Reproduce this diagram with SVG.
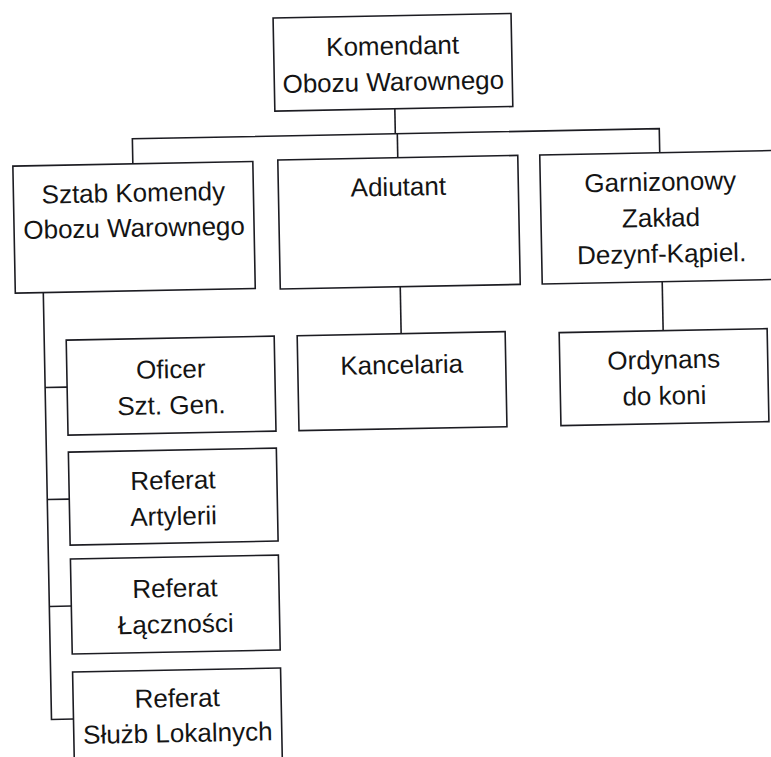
<svg xmlns="http://www.w3.org/2000/svg" width="771" height="757" viewBox="0 0 771 757">
  <style>
    .box { fill: #ffffff; stroke: #1c1c22; stroke-width: 1.6; }
    .link { fill: none; stroke: #1c1c22; stroke-width: 1.6; }
    text { font-family: "Liberation Sans", Arial, sans-serif; font-size: 26px; fill: #141414; text-anchor: middle; }
  </style>
  <rect width="771" height="757" fill="#ffffff"/>
  <g transform="rotate(-1.1 385 378)">
    <g id="connectors">
      <!-- commander down to the distribution bus -->
      <path class="link" d="M400 109 V134"/>
      <path class="link" d="M137 159 V134 H664 V158"/>
      <path class="link" d="M402 134 V158"/>
      <!-- second level to third level -->
      <path class="link" d="M402 287 V334"/>
      <path class="link" d="M664 287 V336"/>
      <!-- staff section spine with branches -->
      <path class="link" d="M45 286 V713 H67"/>
      <path class="link" d="M45 381 H67"/>
      <path class="link" d="M45 493 H67"/>
      <path class="link" d="M45 600 H67"/>
    </g>

    <g id="komendant">
      <rect class="box" x="280" y="16" width="238" height="93"/>
      <text x="399" y="55">Komendant</text>
      <text x="399" y="91">Obozu Warownego</text>
    </g>

    <g id="sztab">
      <rect class="box" x="17" y="159" width="240" height="127"/>
      <text x="137" y="197">Sztab Komendy</text>
      <text x="137" y="232">Obozu Warownego</text>
    </g>

    <g id="adiutant">
      <rect class="box" x="282" y="158" width="240" height="129"/>
      <text x="402" y="196">Adiutant</text>
    </g>

    <g id="garnizonowy">
      <rect class="box" x="544" y="158" width="240" height="129"/>
      <text x="664" y="196">Garnizonowy</text>
      <text x="664" y="232">Zakład</text>
      <text x="664" y="268">Dezynf-Kąpiel.</text>
    </g>

    <g id="kancelaria">
      <rect class="box" x="298" y="334" width="208" height="95"/>
      <text x="402" y="374">Kancelaria</text>
    </g>

    <g id="ordynans">
      <rect class="box" x="560" y="336" width="208" height="93"/>
      <text x="664" y="374">Ordynans</text>
      <text x="664" y="410">do koni</text>
    </g>

    <g id="oficer">
      <rect class="box" x="67" y="334" width="208" height="95"/>
      <text x="171" y="374">Oficer</text>
      <text x="171" y="410">Szt. Gen.</text>
    </g>

    <g id="artylerii">
      <rect class="box" x="67" y="446" width="208" height="93"/>
      <text x="171" y="485">Referat</text>
      <text x="171" y="521">Artylerii</text>
    </g>

    <g id="lacznosci">
      <rect class="box" x="67" y="553" width="208" height="95"/>
      <text x="171" y="593">Referat</text>
      <text x="171" y="629">Łączności</text>
    </g>

    <g id="sluzb">
      <rect class="box" x="67" y="666" width="208" height="94"/>
      <text x="171" y="703">Referat</text>
      <text x="171" y="738">Służb Lokalnych</text>
    </g>
  </g>
</svg>
